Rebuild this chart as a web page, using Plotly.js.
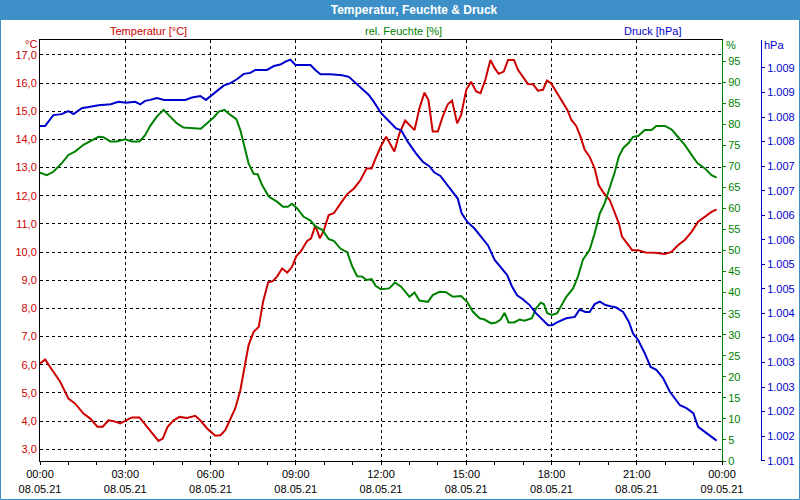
<!DOCTYPE html>
<html>
<head>
<meta charset="utf-8">
<script src="https://cdn.plot.ly/plotly-3.0.1.min.js"></script>
<style>
html, body { margin: 0; padding: 0; background: #ffffff; }
#chart { width: 800px; height: 500px; }
</style>
</head>
<body>
<div id="chart"></div>
<script>
// ---- data (hours since 08.05.21 00:00) ----
const tempHours = [0, 0.18, 0.35, 0.71, 1.00, 1.23, 1.53, 1.76, 2.02, 2.21, 2.41, 2.59, 2.82, 3.02, 3.23, 3.50, 3.76, 4.00, 4.17, 4.32, 4.49, 4.70, 4.91, 5.17, 5.46, 5.64, 5.88, 6.17, 6.35, 6.52, 6.70, 6.87, 7.05, 7.19, 7.34, 7.52, 7.70, 7.85, 8.03, 8.19, 8.34, 8.52, 8.70, 8.87, 9.02, 9.17, 9.40, 9.54, 9.69, 9.85, 9.99, 10.16, 10.34, 10.58, 10.81, 11.05, 11.28, 11.49, 11.67, 11.81, 11.99,
  12.18, 12.47, 12.65, 12.85, 13.18, 13.35, 13.53, 13.67, 13.82, 14.00, 14.17, 14.35, 14.50, 14.68, 14.82, 15.00, 15.17, 15.35, 15.50, 15.67, 15.85, 16.00, 16.14, 16.32, 16.47, 16.68, 16.82, 16.99, 17.17, 17.35, 17.52, 17.70, 17.84, 17.99, 18.17, 18.40, 18.56, 18.70, 18.87, 19.02, 19.17, 19.34, 19.52, 19.66, 19.85, 20.05, 20.23, 20.37, 20.48, 20.67, 20.84, 21.05, 21.31, 21.64, 21.99, 22.22, 22.46, 22.69, 22.93, 23.16, 23.40, 23.63, 23.81];
const tempValues = [6.05, 6.19, 5.93, 5.4, 4.8, 4.63, 4.27, 4.1, 3.8, 3.8, 4.03, 4.0, 3.92, 4.03, 4.13, 4.13, 3.8, 3.5, 3.3, 3.38, 3.8, 4.03, 4.15, 4.11, 4.19, 4.03, 3.74, 3.48, 3.5, 3.68, 4.1, 4.45, 5.1, 5.93, 6.7, 7.17, 7.35, 8.24, 8.93, 8.97, 9.13, 9.42, 9.27, 9.48, 9.86, 10.01, 10.4, 10.49, 10.94, 10.49, 10.78, 11.32, 11.38, 11.73, 12.06, 12.26, 12.56, 12.97, 12.97, 13.33, 13.74,
  14.1, 13.57, 14.22, 14.67, 14.33, 15.1, 15.66, 15.4, 14.28, 14.28, 14.81, 15.25, 15.38, 14.57, 14.87, 15.76, 16.05, 15.7, 15.64, 16.11, 16.82, 16.53, 16.33, 16.41, 16.82, 16.82, 16.47, 16.23, 15.97, 15.96, 15.73, 15.76, 16.09, 15.99, 15.7, 15.34, 15.05, 14.69, 14.48, 14.1, 13.63, 13.39, 12.97, 12.38, 12.08, 11.85, 11.38, 11.02, 10.55, 10.31, 10.07, 10.07, 9.99, 9.98, 9.93, 10.01, 10.25, 10.43, 10.72, 11.08, 11.26, 11.43, 11.52];

const humHours = [0, 0.24, 0.47, 0.76, 1.00, 1.23, 1.53, 1.82, 2.06, 2.23, 2.47, 2.70, 3.00, 3.23, 3.50, 3.70, 3.88, 4.11, 4.35, 4.58, 4.82, 5.05, 5.35, 5.66, 5.88, 6.11, 6.29, 6.49, 6.70, 6.91, 7.05, 7.19, 7.34, 7.52, 7.66, 7.81, 8.05, 8.34, 8.55, 8.72, 8.87, 9.05, 9.28, 9.52, 9.69, 9.93, 10.16, 10.34, 10.58, 10.81, 10.99, 11.16, 11.34, 11.49, 11.67, 11.81, 11.99,
  12.29, 12.49, 12.71, 13.00, 13.18, 13.35, 13.65, 13.82, 14.06, 14.29, 14.53, 14.82, 15.03, 15.23, 15.47, 15.64, 15.88, 16.05, 16.21, 16.35, 16.49, 16.68, 16.88, 17.05, 17.31, 17.46, 17.62, 17.73, 17.85, 18.02, 18.20, 18.35, 18.52, 18.76, 18.93, 19.11, 19.34, 19.52, 19.70, 19.87, 20.05, 20.23, 20.37, 20.52, 20.72, 20.87, 21.05, 21.28, 21.52, 21.69, 21.99, 22.22, 22.46, 22.69, 22.93, 23.14, 23.40, 23.63, 23.81];
const humValues = [68.5, 67.9, 68.7, 70.7, 72.7, 73.5, 75.1, 76.1, 77.0, 76.9, 75.9, 75.9, 76.4, 75.9, 75.9, 77.4, 79.6, 81.8, 83.4, 81.8, 80.2, 79.2, 79.0, 78.9, 80.2, 81.6, 83.0, 83.4, 82.2, 81.2, 78.6, 74.7, 70.7, 68.2, 68.1, 65.6, 62.8, 61.6, 60.4, 60.4, 61.1, 60.0, 58.0, 57.1, 55.7, 54.9, 52.7, 52.3, 50.4, 49.6, 46.2, 43.9, 43.8, 43.0, 43.2, 41.6, 40.8,
  41.0, 42.4, 41.4, 39.0, 40.0, 38.1, 37.8, 39.4, 40.2, 40.1, 39.0, 39.2, 37.8, 35.5, 33.9, 33.6, 32.7, 32.9, 33.6, 35.2, 32.9, 32.9, 33.6, 33.3, 33.9, 36.3, 37.6, 37.3, 35.1, 34.7, 35.1, 37.1, 39.0, 41.0, 43.8, 47.9, 50.1, 54.1, 58.8, 61.2, 64.8, 68.7, 72.3, 74.3, 75.6, 77.0, 77.2, 78.6, 78.6, 79.6, 79.6, 78.8, 76.9, 75.1, 72.7, 70.7, 69.5, 67.9, 67.3];

const pressHours = [0, 0.18, 0.47, 0.76, 1.00, 1.18, 1.47, 1.76, 2.06, 2.49, 2.76, 3.02, 3.35, 3.53, 3.70, 3.88, 4.11, 4.37, 4.70, 5.11, 5.35, 5.64, 5.84, 6.05, 6.23, 6.46, 6.70, 6.93, 7.17, 7.40, 7.58, 7.99, 8.23, 8.46, 8.64, 8.81, 8.99, 9.17, 9.52, 9.69, 9.87, 10.22, 10.63, 10.87, 11.10, 11.34, 11.57, 11.75, 11.99,
  12.24, 12.53, 12.71, 12.94, 13.23, 13.47, 13.70, 13.88, 14.09, 14.29, 14.53, 14.70, 14.84, 15.03, 15.29, 15.53, 15.76, 16.00, 16.23, 16.44, 16.61, 16.79, 16.99, 17.23, 17.46, 17.64, 17.88, 18.02, 18.23, 18.52, 18.82, 18.99, 19.19, 19.34, 19.52, 19.70, 19.90, 20.11, 20.28, 20.52, 20.72, 20.87, 21.05, 21.28, 21.49, 21.69, 21.93, 22.16, 22.34, 22.52, 22.75, 22.99, 23.16, 23.40, 23.61, 23.81];
const pressValues = [1007.82, 1007.82, 1008.04, 1008.06, 1008.12, 1008.06, 1008.18, 1008.21, 1008.24, 1008.26, 1008.31, 1008.29, 1008.31, 1008.26, 1008.33, 1008.35, 1008.39, 1008.35, 1008.35, 1008.35, 1008.40, 1008.43, 1008.35, 1008.45, 1008.55, 1008.64, 1008.69, 1008.77, 1008.88, 1008.90, 1008.96, 1008.96, 1009.04, 1009.07, 1009.13, 1009.17, 1009.06, 1009.06, 1009.06, 1008.96, 1008.87, 1008.87, 1008.85, 1008.82, 1008.70, 1008.58, 1008.45, 1008.31, 1008.09,
  1007.94, 1007.77, 1007.73, 1007.50, 1007.26, 1007.09, 1007.00, 1006.87, 1006.80, 1006.65, 1006.48, 1006.34, 1006.04, 1005.87, 1005.73, 1005.56, 1005.39, 1005.09, 1004.92, 1004.78, 1004.55, 1004.37, 1004.29, 1004.17, 1004.00, 1003.90, 1003.76, 1003.76, 1003.83, 1003.90, 1003.93, 1004.08, 1004.03, 1004.03, 1004.19, 1004.24, 1004.17, 1004.14, 1004.12, 1004.03, 1003.83, 1003.59, 1003.46, 1003.19, 1002.91, 1002.85, 1002.68, 1002.41, 1002.27, 1002.13, 1002.07, 1001.97, 1001.69, 1001.59, 1001.49, 1001.41];

// ---- tick labels ----
const xTickVals = [0, 3, 6, 9, 12, 15, 18, 21, 24];
const xTickText = ['00:00<br>08.05.21', '03:00<br>08.05.21', '06:00<br>08.05.21', '09:00<br>08.05.21', '12:00<br>08.05.21', '15:00<br>08.05.21', '18:00<br>08.05.21', '21:00<br>08.05.21', '00:00<br>09.05.21'];
const tempTickVals = [3, 4, 5, 6, 7, 8, 9, 10, 11, 12, 13, 14, 15, 16, 17];
const tempTickText = ['3,0', '4,0', '5,0', '6,0', '7,0', '8,0', '9,0', '10,0', '11,0', '12,0', '13,0', '14,0', '15,0', '16,0', '17,0'];
const humTickVals = [0, 5, 10, 15, 20, 25, 30, 35, 40, 45, 50, 55, 60, 65, 70, 75, 80, 85, 90, 95];
const pressTickVals = [1001, 1001.5, 1002, 1002.5, 1003, 1003.5, 1004, 1004.5, 1005, 1005.5, 1006, 1006.5, 1007, 1007.5, 1008, 1008.5, 1009];
const pressTickText = ['1.001', '1.002', '1.002', '1.003', '1.003', '1.004', '1.004', '1.005', '1.005', '1.006', '1.006', '1.007', '1.007', '1.008', '1.008', '1.009', '1.009'];

const seriesNames = ['Temperatur [°C]', 'rel. Feuchte [%]', 'Druck [hPa]'];
const RED = '#cc0000', GREEN = '#008000', BLUE = '#0000cc', BAR = '#3d8fc7';
const FONT = 'Liberation Sans, Arial, sans-serif';

// ---- geometry helpers (pixel -> paper) ----
const L = 40, R = 39, T = 40, B = 39, W = 800 - L - R, H = 500 - T - B;
const px = x => (x - L) / W;
const py = y => (500 - B - y) / H;

const traces = [
  { x: humHours, y: humValues, yaxis: 'y2', type: 'scatter', mode: 'lines', name: seriesNames[1],
    line: { color: GREEN, width: 2 } },
  { x: tempHours, y: tempValues, yaxis: 'y', type: 'scatter', mode: 'lines', name: seriesNames[0],
    line: { color: RED, width: 2 } },
  { x: pressHours, y: pressValues, yaxis: 'y3', type: 'scatter', mode: 'lines', name: seriesNames[2],
    line: { color: BLUE, width: 2 } }
];

const layout = {
  width: 800, height: 500,
  margin: { l: L, r: R, t: T, b: B, pad: 0 },
  paper_bgcolor: '#ffffff', plot_bgcolor: '#ffffff',
  showlegend: false,
  font: { family: FONT, size: 11, color: '#000000' },
  title: { text: '<b>Temperatur, Feuchte & Druck</b>', font: { family: FONT, size: 12, color: '#ffffff' },
    xref: 'container', x: 414 / 800, xanchor: 'center', yref: 'container', y: 1 - 10 / 500, yanchor: 'middle' },
  xaxis: {
    domain: [0, 682 / W], range: [0, 24], zeroline: false,
    tickmode: 'array', tickvals: xTickVals, ticktext: xTickText,
    ticks: 'outside', ticklen: 3, tickcolor: '#000', tickwidth: 1,
    minor: { tickmode: 'linear', tick0: 0, dtick: 1, ticks: 'outside', ticklen: 3, tickcolor: '#000', showgrid: false },
    showgrid: true, gridcolor: '#000000', gridwidth: 1, griddash: '3px,3px',
    showline: true, linecolor: '#000000', linewidth: 1, mirror: true,
    tickfont: { family: FONT, size: 11, color: '#000000' }
  },
  yaxis: {
    range: [2.585, 17.53], zeroline: false,
    tickmode: 'array', tickvals: tempTickVals, ticktext: tempTickText,
    ticks: '', showgrid: true, gridcolor: '#000000', gridwidth: 1, griddash: '3px,3px',
    showline: true, linecolor: '#000000', linewidth: 1, mirror: true,
    tickfont: { family: FONT, size: 11, color: RED }
  },
  yaxis2: {
    overlaying: 'y', side: 'right', anchor: 'x', range: [0, 100], zeroline: false,
    tickmode: 'array', tickvals: humTickVals,
    ticks: 'outside', ticklen: 3, tickcolor: GREEN, showgrid: false,
    showline: true, linecolor: GREEN, linewidth: 1,
    tickfont: { family: FONT, size: 11, color: GREEN }
  },
  yaxis3: {
    overlaying: 'y', side: 'right', anchor: 'free', position: 1, range: [1000.994, 1009.57], zeroline: false,
    tickmode: 'array', tickvals: pressTickVals, ticktext: pressTickText,
    ticks: 'outside', ticklen: 3, tickcolor: BLUE, showgrid: false,
    showline: true, linecolor: BLUE, linewidth: 1,
    tickfont: { family: FONT, size: 11, color: BLUE }
  },
  shapes: [
    { type: 'rect', xref: 'paper', yref: 'paper', x0: px(0), x1: px(800), y0: py(20), y1: py(0),
      fillcolor: BAR, line: { width: 0 }, layer: 'above' },
    { type: 'rect', xref: 'paper', yref: 'paper', x0: px(0.5), x1: px(799.5), y0: py(499.5), y1: py(0),
      fillcolor: 'rgba(0,0,0,0)', line: { color: BAR, width: 1 }, layer: 'above' }
  ],
  annotations: [
    { text: seriesNames[0], xref: 'paper', yref: 'paper', x: px(148), y: py(31), xanchor: 'center', yanchor: 'middle',
      showarrow: false, font: { family: FONT, size: 11, color: RED } },
    { text: seriesNames[1], xref: 'paper', yref: 'paper', x: px(403), y: py(31), xanchor: 'center', yanchor: 'middle',
      showarrow: false, font: { family: FONT, size: 11, color: GREEN } },
    { text: seriesNames[2], xref: 'paper', yref: 'paper', x: px(652), y: py(31), xanchor: 'center', yanchor: 'middle',
      showarrow: false, font: { family: FONT, size: 11, color: BLUE } },
    { text: '°C', xref: 'paper', yref: 'paper', x: px(38), y: py(43.5), xanchor: 'right', yanchor: 'middle',
      showarrow: false, borderpad: 0, font: { family: FONT, size: 11, color: RED } },
    { text: '%', xref: 'paper', yref: 'paper', x: px(724), y: py(45), xanchor: 'left', yanchor: 'middle',
      showarrow: false, font: { family: FONT, size: 11, color: GREEN } },
    { text: 'hPa', xref: 'paper', yref: 'paper', x: px(762), y: py(45), xanchor: 'left', yanchor: 'middle',
      showarrow: false, font: { family: FONT, size: 11, color: BLUE } }
  ]
};

Plotly.newPlot('chart', traces, layout, { displayModeBar: false, staticPlot: true });
</script>
</body>
</html>
